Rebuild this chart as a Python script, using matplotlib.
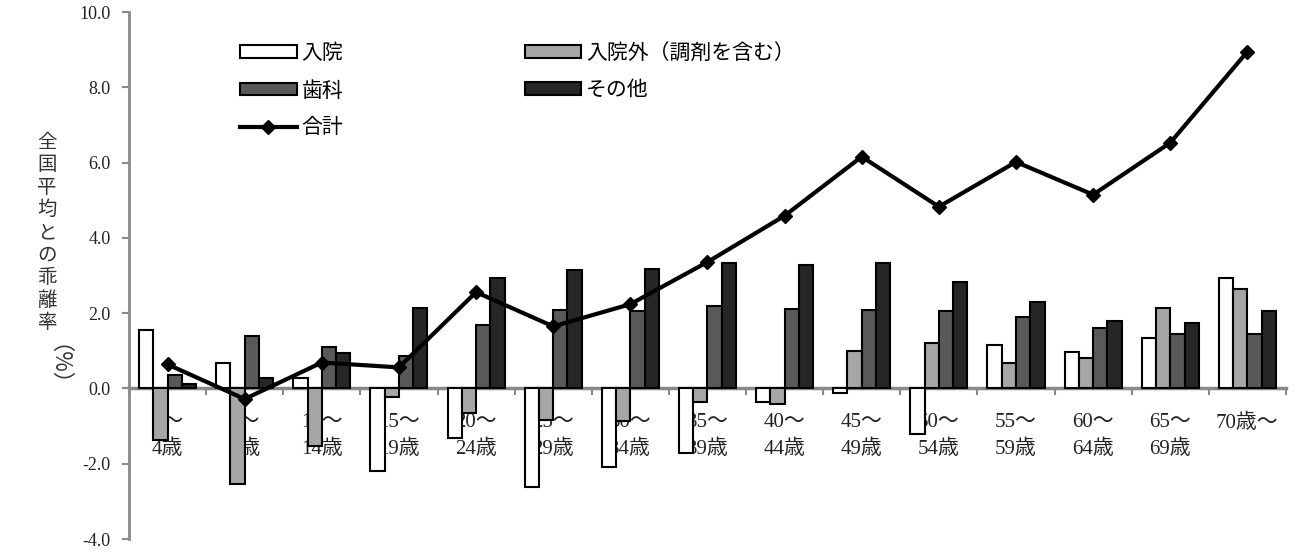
import matplotlib
matplotlib.use('Agg')
import matplotlib.pyplot as plt
import numpy as np

plt.rcParams['font.family'] = ['Liberation Serif', 'Noto Sans CJK JP']
plt.rcParams['axes.unicode_minus'] = False

# age groups
ages = ['0～\n4歳', '5～\n9歳', '10～\n14歳', '15～\n19歳', '20～\n24歳', '25～\n29歳',
        '30～\n34歳', '35～\n39歳', '40～\n44歳', '45～\n49歳', '50～\n54歳', '55～\n59歳',
        '60～\n64歳', '65～\n69歳', '70歳～']

# deviation from national average (%)
nyuin = [1.55, 0.69, 0.29, -2.19, -1.31, -2.61, -2.08, -1.72, -0.36, -0.12, -1.21, 1.15, 0.97, 1.33, 2.93]
nyuingai = [-1.36, -2.53, -1.54, -0.23, -0.64, -0.83, -0.87, -0.35, -0.42, 0.99, 1.21, 0.69, 0.80, 2.13, 2.64]
shika = [0.35, 1.39, 1.10, 0.86, 1.68, 2.08, 2.06, 2.19, 2.12, 2.08, 2.07, 1.90, 1.61, 1.45, 1.45]
sonota = [0.12, 0.28, 0.94, 2.13, 2.93, 3.15, 3.17, 3.34, 3.28, 3.34, 2.82, 2.29, 1.78, 1.73, 2.06]
goukei = [0.64, -0.28, 0.69, 0.56, 2.56, 1.65, 2.24, 3.36, 4.59, 6.16, 4.83, 6.02, 5.15, 6.53, 8.95]

fig = plt.figure(figsize=(12.95, 5.53), dpi=100)
ax = fig.add_axes([0.0996, 0.0253, 0.8934, 0.9527])

x = np.arange(len(ages))
w = 0.185
series = [(nyuin, '#ffffff', '入院'), (nyuingai, '#a6a6a6', '入院外（調剤を含む）'),
          (shika, '#595959', '歯科'), (sonota, '#262626', 'その他')]
bars = []
for i, (vals, col, lab) in enumerate(series):
    b = ax.bar(x + (i - 1.5) * w, vals, w, color=col, edgecolor='black', linewidth=1.5,
               label=lab, zorder=2)
    bars.append(b)
line, = ax.plot(x, goukei, color='black', lw=3, marker='D', markersize=7, label='合計', zorder=3)

ax.set_xlim(-0.5, len(ages) - 0.5)
ax.set_ylim(-4, 10)
ax.set_yticks(np.arange(-4, 10.1, 2))
ax.set_yticklabels(['%.1f' % v for v in np.arange(-4, 10.1, 2)], fontsize=13)

gray = '#898989'
for s in ['top', 'right']:
    ax.spines[s].set_visible(False)
ax.spines['left'].set_color(gray)
ax.spines['left'].set_linewidth(2)
ax.spines['bottom'].set_position(('data', 0))
ax.spines['bottom'].set_color(gray)
ax.spines['bottom'].set_linewidth(2.5)
ax.spines['bottom'].set_zorder(1)
ax.tick_params(axis='y', colors=gray, length=5, width=1.5, labelcolor='#222222', pad=8)

ax.set_xticks(np.arange(-0.5, len(ages), 1))
ax.set_xticklabels([])
ax.set_xticks(x, minor=True)
ax.set_xticklabels(ages, minor=True, fontsize=15, linespacing=1.5, color='#222222')
ax.tick_params(axis='x', which='major', colors=gray, length=5, width=1.5, direction='out')
ax.tick_params(axis='x', which='minor', length=0, pad=18)

handles = [bars[0], bars[2], line, bars[1], bars[3]]
labels = [h.get_label() for h in handles]
ax.legend(handles, labels, ncol=2, loc='upper left', bbox_to_anchor=(0.08, 0.975),
          frameon=False, fontsize=15, handlelength=2.7, handleheight=0.55,
          columnspacing=8.7, labelspacing=0.85, handletextpad=0.25)

ylab = '\n'.join('全国平均との乖離率')
fig.text(0.036, 0.762, ylab, fontsize=14, ha='center', va='top', linespacing=1.1,
         color='#333333', family='Noto Sans CJK JP')
fig.text(0.036, 0.32, '（%）', fontsize=16, ha='center', va='center', rotation=270,
         color='#333333', family='Noto Sans CJK JP')

fig.savefig('out.png', dpi=100)
